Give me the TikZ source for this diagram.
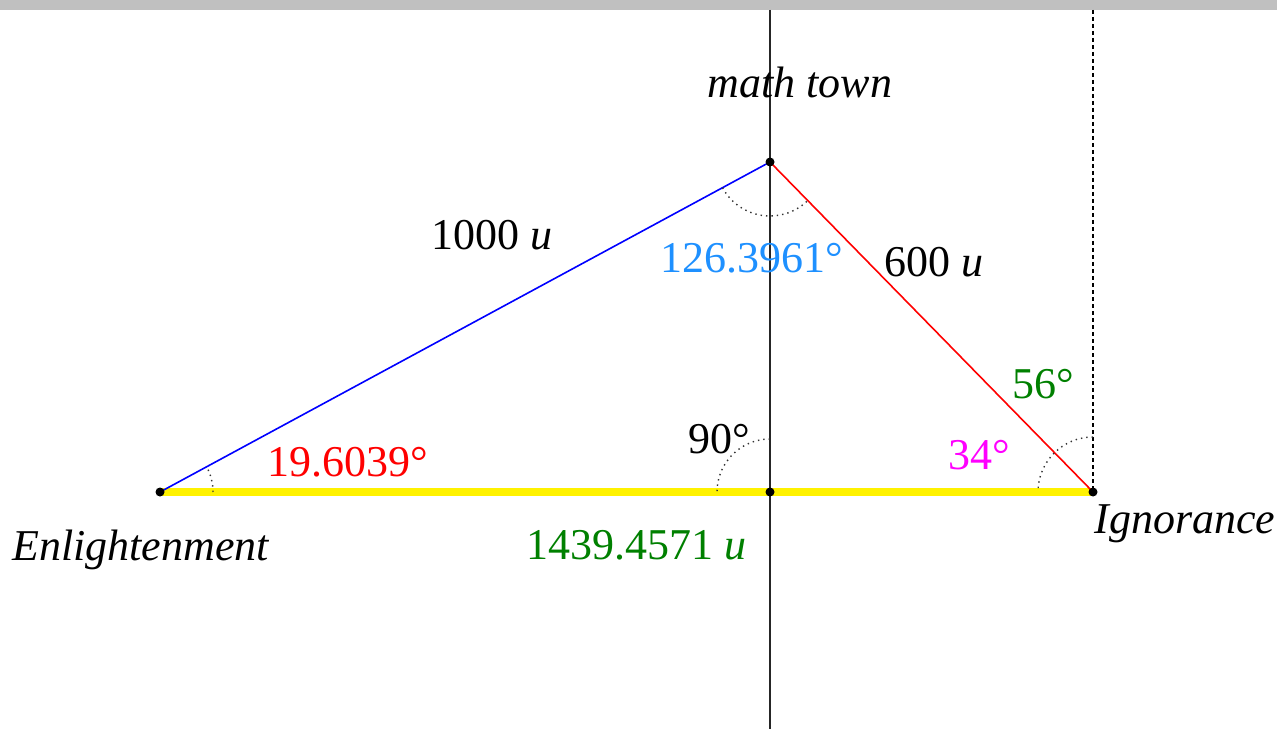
\documentclass[tikz,border=0pt]{standalone}
\usepackage{fontspec}
\setmainfont{Liberation Serif}
\usetikzlibrary{angles}
\definecolor{lblblue}{RGB}{30,144,255}
\definecolor{lblgreen}{RGB}{0,128,0}
\definecolor{lblmagenta}{RGB}{255,0,255}
\definecolor{bargray}{RGB}{192,192,192}
\begin{document}
\begin{tikzpicture}[x=0.5pt,y=0.5pt,
  pt/.style={circle,fill=black,inner sep=0pt,minimum size=4.5pt},
  lbl/.style={anchor=base,inner sep=0pt,font=\fontsize{22}{26}\selectfont},
  arcdot/.style={draw=black!80,line width=0.7pt,dotted},
  axis/.style={draw=black!85,line width=0.75pt}]
\useasboundingbox (0,0) rectangle (1277,729);
\fill[bargray] (0,719) rectangle (1277,729);
% geometry
\coordinate (M) at (770,567);
\coordinate (E) at (160,237);
\coordinate (I) at (1093,237);
\coordinate (F) at (770,237);
\coordinate (Vtop) at (770,719);
\coordinate (Vbot) at (770,0);
\coordinate (Dtop) at (1093,719);
% base
\draw[yellow,line width=4.2pt] (E) -- (I);
\draw[axis] (Vtop) -- (Vbot);
\draw[black,line width=0.65pt,dash pattern=on 2pt off 1.5pt] (Dtop) -- (I);
\draw[blue,line width=0.8pt] (E) -- (M);
\draw[red,line width=0.8pt] (M) -- (I);
% angle arcs
\pic[arcdot,angle radius=27pt] {angle=E--M--I};
\pic[arcdot,angle radius=26.5pt] {angle=I--E--M};
\pic[arcdot,angle radius=26.5pt] {angle=M--F--E};
\pic[arcdot,angle radius=27.5pt] {angle=Dtop--I--E};
% dots
\node[pt] (Mdot) at (M) {};
\node[pt] (Edot) at (E) {};
\node[pt] (Idot) at (I) {};
\node[pt] (Fdot) at (F) {};
% labels
\node[lbl] (lm) at (800,631) {\textit{math town}};
\node[lbl] (le) at (141,169) {\textit{Enlightenment}};
\node[lbl] (li) at (1185,196) {\textit{Ignorance}};
\node[lbl] (l1000) at (492,479) {1000 \textit{u}};
\node[lbl,text=lblblue] (lM) at (752,456) {126.3961°};
\node[lbl] (l600) at (934,452) {600 \textit{u}};
\node[lbl,text=lblgreen] (l56) at (1043,331) {56°};
\node[lbl,text=lblmagenta] (l34) at (979,260) {34°};
\node[lbl] (l90) at (719,276) {90°};
\node[lbl,text=red] (lE) at (348,253) {19.6039°};
\node[lbl,text=lblgreen] (lbase) at (636,170) {1439.4571 \textit{u}};
\end{tikzpicture}
\end{document}
